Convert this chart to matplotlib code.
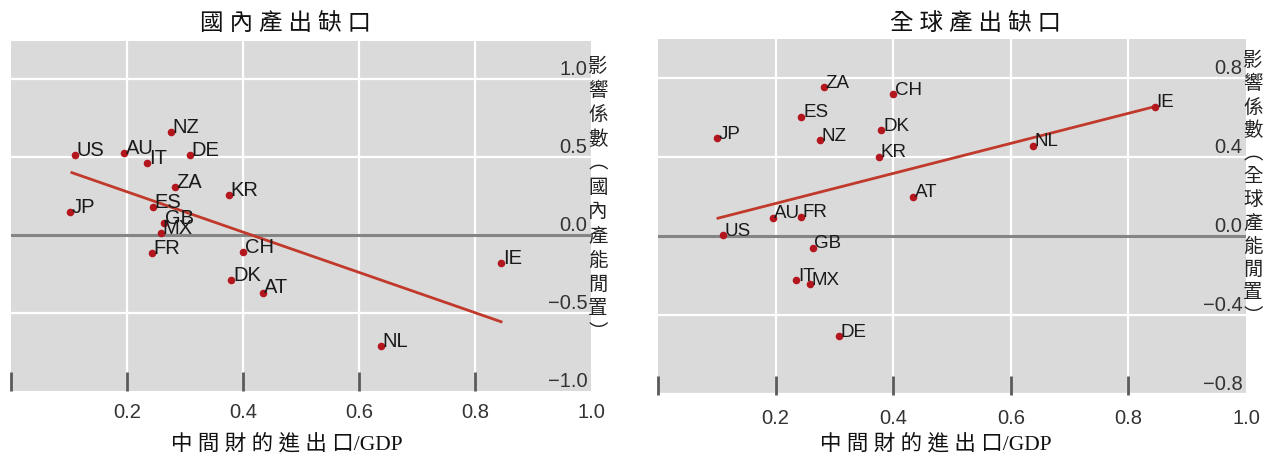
import numpy as np
import matplotlib
matplotlib.use('Agg')
import matplotlib.pyplot as plt
import matplotlib.transforms as mtransforms

# 各國資料：中間財的進出口/GDP 與 影響係數
countries = ['US', 'AU', 'IT', 'NZ', 'DE', 'ZA', 'KR', 'JP', 'ES',
             'GB', 'MX', 'FR', 'CH', 'DK', 'AT', 'NL', 'IE']
trade_gdp = [0.110, 0.195, 0.235, 0.275, 0.308, 0.282, 0.376, 0.101, 0.244,
             0.263, 0.258, 0.243, 0.400, 0.380, 0.434, 0.638, 0.845]
# 國內產出缺口的影響係數
coef_domestic = [0.513, 0.526, 0.462, 0.660, 0.513, 0.308, 0.256, 0.147, 0.178,
                 0.075, 0.011, -0.117, -0.109, -0.288, -0.370, -0.712, -0.180]
# 全球產出缺口的影響係數
coef_global = [0.005, 0.093, -0.223, 0.486, -0.506, 0.753, 0.402, 0.495, 0.604,
               -0.059, -0.243, 0.098, 0.717, 0.537, 0.199, 0.457, 0.655]

# 迴歸線兩端
fit_x_domestic = [0.105, 0.845]
fit_y_domestic = [0.400, -0.556]
fit_x_global = [0.102, 0.845]
fit_y_global = [0.090, 0.655]

x_ticks = [0.2, 0.4, 0.6, 0.8, 1.0]
y_ticks_domestic = [-1.0, -0.5, 0.0, 0.5, 1.0]
y_ticks_global = [-0.8, -0.4, 0.0, 0.4, 0.8]

BG = '#dadada'
DOT = '#b3171d'
LINE = '#c0392b'
CJK = ['Noto Sans CJK TC', 'DejaVu Sans']
SERIF_CJK = ['Liberation Serif', 'Noto Sans CJK TC']
LATIN = ['Liberation Sans', 'DejaVu Sans']

fig = plt.figure(figsize=(12.65, 4.59), dpi=100)
fig.patch.set_facecolor('white')


def draw_panel(rect, coef, fit_x, fit_y, y_ticks, ylim, label_size, tick_pad):
    ax = fig.add_axes(rect)
    ax.set_facecolor(BG)
    for s in ax.spines.values():
        s.set_visible(False)
    ax.set_xlim(0, 1.0)
    ax.set_ylim(*ylim)

    # 白色格線
    for v in x_ticks[:-1]:
        ax.axvline(v, color='white', lw=1.6, zorder=1)
    for v in y_ticks:
        if v != 0.0 and v > ylim[0]:
            ax.axhline(v, color='white', lw=1.6, zorder=1)
    ax.axhline(0.0, color='#858585', lw=2.2, zorder=2)

    # 底部刻度（1.0 處不畫刻度線）
    ax.set_xticks([0.0] + x_ticks)
    ax.set_xticklabels([''] + ['%.1f' % v for v in x_ticks],
                       family=LATIN, fontsize=14.5, color='#333333')
    ax.tick_params(axis='x', direction='in', length=14, width=2,
                   color='#5a5a5a', pad=tick_pad)
    ax.xaxis.get_major_ticks()[-1].tick1line.set_visible(False)
    ax.set_yticks([])

    # 右側內側的 y 軸數值
    trans = mtransforms.blended_transform_factory(ax.transAxes, ax.transData)
    for v in y_ticks:
        txt = ('%.1f' % v).replace('-', '\u2212')
        ax.text(0.994, v, txt, transform=trans, ha='right', va='bottom',
                family=LATIN, fontsize=14.5, color='#333333', zorder=5)

    ax.plot(fit_x, fit_y, color=LINE, lw=2.0, zorder=3)
    ax.scatter(trade_gdp, coef, s=30, color=DOT, zorder=4, linewidths=0)
    for name, x, y in zip(countries, trade_gdp, coef):
        ax.annotate(name, (x, y), xytext=(1.2, -0.5), textcoords='offset points',
                    ha='left', va='baseline', family=LATIN,
                    fontsize=label_size, color='#1a1a1a', zorder=5)
    return ax


ax1 = draw_panel([11 / 1265, 68 / 459, 580 / 1265, 350 / 459],
                 coef_domestic, fit_x_domestic, fit_y_domestic,
                 y_ticks_domestic, (-1.0, 1.244), 14.5, 9)
ax2 = draw_panel([658 / 1265, 64 / 459, 588 / 1265, 356 / 459],
                 coef_global, fit_x_global, fit_y_global,
                 y_ticks_global, (-0.805, 0.997), 13.5, 10)

# 標題
fig.text(0.226, 0.948, ' '.join('國內產出缺口'), ha='center', va='center',
         family=SERIF_CJK, fontsize=17, color='#111111')
fig.text(0.771, 0.948, ' '.join('全球產出缺口'), ha='center', va='center',
         family=SERIF_CJK, fontsize=17, color='#111111')

# x 軸標題
fig.text(0.227, 0.033, ' '.join('中間財的進出口') + '/GDP', ha='center',
         va='center', family=SERIF_CJK, fontsize=15.5, color='#111111')
fig.text(0.740, 0.033, ' '.join('中間財的進出口') + '/GDP', ha='center',
         va='center', family=SERIF_CJK, fontsize=15.5, color='#111111')

# 直排 y 軸標題
ylab1 = '\n'.join('影響係數︵國內產能閒置︶')
ylab2 = '\n'.join('影響係數︵全球產能閒置︶')
fig.text(598 / 1265, 1 - 56 / 459, ylab1, ha='center', va='top',
         family=CJK, fontsize=14, linespacing=1.2, color='#222222')
fig.text(1253 / 1265, 1 - 50 / 459, ylab2, ha='center', va='top',
         family=CJK, fontsize=14, linespacing=1.14, color='#222222')

fig.savefig('out.png', dpi=100)
